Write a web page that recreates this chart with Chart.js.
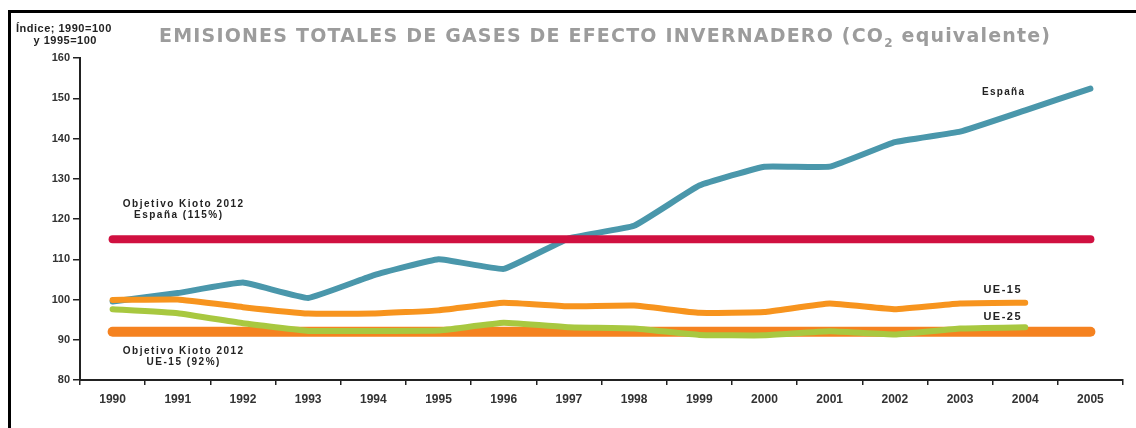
<!DOCTYPE html>
<html>
<head>
<meta charset="utf-8">
<script src="https://cdn.jsdelivr.net/npm/chart.js@4.4.1/dist/chart.umd.min.js"></script>
<style>
  html, body { margin: 0; padding: 0; background: #fff; }
  #c { display: block; }
</style>
</head>
<body>
<canvas id="c" width="1136" height="428"></canvas>
<script>
// datos (índice 1990=100 / 1995=100)
const years = ['1990', '1991', '1992', '1993', '1994', '1995', '1996', '1997',
               '1998', '1999', '2000', '2001', '2002', '2003', '2004', '2005'];
const espana = [99.5, 101.6, 104.2, 100.4, 106, 110, 107.6, 115.2, 118.3, 128.3, 133, 133, 139.1, 141.7, 147, 152.4];
const ue15 = [99.9, 100, 98.1, 96.5, 96.5, 97.3, 99.2, 98.3, 98.5, 96.7, 96.9, 99, 97.6, 99, 99.2, null];
const ue25 = [97.6, 96.6, 94.1, 92.2, 92.2, 92.3, 94.2, 93.1, 92.8, 91.2, 91.1, 92.1, 91.3, 92.8, 93.1, null];
const kiotoEspana = [115, 115, 115, 115, 115, 115, 115, 115, 115, 115, 115, 115, 115, 115, 115, 115];
const kiotoUE15 = [92, 92, 92, 92, 92, 92, 92, 92, 92, 92, 92, 92, 92, 92, 92, 92];
const yMin = 80, yMax = 160, yStep = 10;

const LABEL_FONT = '"Liberation Sans", Arial, sans-serif';

function line(data, color, width) {
    return {
        data, borderColor: color, backgroundColor: color, borderWidth: width,
        pointRadius: 0, tension: 0.1, borderCapStyle: 'round', borderJoinStyle: 'round',
        spanGaps: false, clip: 10,
    };
}

function drawText(ctx, str, x, y, font, spacing, align) {
    ctx.font = font;
    ctx.letterSpacing = spacing + 'px';
    const w = ctx.measureText(str).width - spacing;
    let sx = x;
    if (align === 'center') sx = x - w / 2;
    ctx.textAlign = 'left';
    ctx.fillText(str, sx, y);
}

const decor = {
    id: 'decor',
    beforeDraw(chart) {
        const ctx = chart.ctx;
        ctx.save();
        ctx.fillStyle = '#fff';
        ctx.fillRect(0, 0, chart.width, chart.height);
        ctx.restore();
    },
    afterDraw(chart) {
        const ctx = chart.ctx;
        ctx.save();
        // marco
        ctx.fillStyle = '#000';
        ctx.fillRect(8, 10, chart.width - 8, 3);
        ctx.fillRect(8, 10, 3, chart.height - 10);

        // título con subíndice
        const p1 = 'EMISIONES TOTALES DE GASES DE EFECTO INVERNADERO (CO';
        const p2 = '2';
        const p3 = ' equivalente)';
        const big = 'bold 19px "DejaVu Sans", sans-serif';
        const small = 'bold 12px "DejaVu Sans", sans-serif';
        ctx.textBaseline = 'alphabetic';
        ctx.textAlign = 'left';
        ctx.letterSpacing = '0px';
        ctx.font = big;
        const w1 = ctx.measureText(p1).width, w3 = ctx.measureText(p3).width;
        ctx.font = small;
        const w2 = ctx.measureText(p2).width;
        const nChars = p1.length + p2.length + p3.length;
        const left = 159, right = 1050;
        const sp = (right - left - (w1 + w2 + w3)) / (nChars - 1);
        ctx.fillStyle = '#9c9c9c';
        ctx.letterSpacing = sp + 'px';
        let x = left;
        ctx.font = big;
        ctx.fillText(p1, x, 42);
        x += ctx.measureText(p1).width;
        ctx.font = small;
        ctx.fillText(p2, x, 47);
        x += ctx.measureText(p2).width;
        ctx.font = big;
        ctx.fillText(p3, x, 42);

        // título del eje
        ctx.fillStyle = '#222';
        drawText(ctx, 'Índice; 1990=100', 16, 32, 'bold 11px ' + LABEL_FONT, 0.5, 'left');
        drawText(ctx, 'y 1995=100', 65, 44, 'bold 11px ' + LABEL_FONT, 0.5, 'center');

        // anotaciones
        const f10 = 'bold 10px ' + LABEL_FONT;
        const f11 = 'bold 11px ' + LABEL_FONT;
        drawText(ctx, 'Objetivo Kioto 2012', 183, 207, f10, 1.5, 'center');
        drawText(ctx, 'España (115%)', 178, 218, f10, 1.5, 'center');
        drawText(ctx, 'Objetivo Kioto 2012', 183, 354, f10, 1.5, 'center');
        drawText(ctx, 'UE-15 (92%)', 183, 365, f10, 1.5, 'center');
        drawText(ctx, 'España', 1003, 95, f10, 1.3, 'center');
        drawText(ctx, 'UE-15', 1002, 293, f11, 1.5, 'center');
        drawText(ctx, 'UE-25', 1002, 320, f11, 1.5, 'center');
        ctx.restore();
    }
};

new Chart(document.getElementById('c'), {
    type: 'line',
    data: {
        labels: years,
        datasets: [
            Object.assign(line(ue15, '#f7941e', 6), { label: 'UE-15' }),
            Object.assign(line(ue25, '#a8c840', 6), { label: 'UE-25' }),
            Object.assign(line(kiotoEspana, '#d01040', 8), { label: 'Objetivo Kioto España', tension: 0 }),
            Object.assign(line(kiotoUE15, '#f58220', 10), { label: 'Objetivo Kioto UE-15', tension: 0 }),
            Object.assign(line(espana, '#4a97ab', 6), { label: 'España' }),
        ],
    },
    options: {
        responsive: false,
        animation: false,
        devicePixelRatio: 1,
        layout: { padding: { top: 58, right: 13, left: 0, bottom: 0 } },
        plugins: { legend: { display: false }, tooltip: { enabled: false }, title: { display: false } },
        scales: {
            x: {
                offset: true,
                afterFit: (s) => { s.height = 48; },
                grid: { offset: true, drawOnChartArea: false, tickLength: 5, color: '#222', lineWidth: 1.5 },
                border: { color: '#222', width: 2 },
                ticks: { color: '#333', padding: 7, font: { family: LABEL_FONT, size: 12, weight: 'bold' } },
            },
            y: {
                min: yMin, max: yMax,
                afterFit: (s) => { s.width = 80; },
                grid: { drawOnChartArea: false, tickLength: 7, color: '#222', lineWidth: 1.5 },
                border: { color: '#222', width: 2 },
                ticks: { stepSize: yStep, color: '#333', padding: 3, font: { family: LABEL_FONT, size: 11, weight: 'bold' } },
            },
        },
    },
    plugins: [decor],
});
</script>
</body>
</html>
